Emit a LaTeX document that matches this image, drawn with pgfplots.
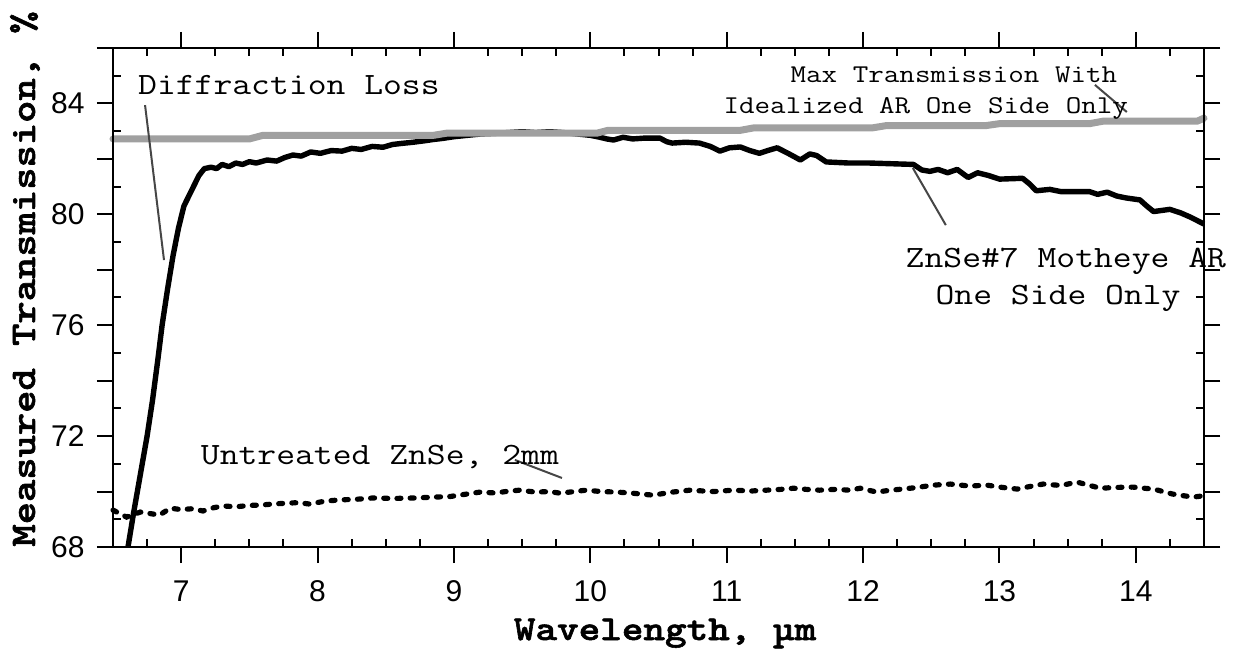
\documentclass[border=0pt]{standalone}
\usepackage{pgfplots}
\pgfplotsset{compat=1.18}
\usepackage{graphicx}
\usepackage{fontspec}
\setmainfont{Liberation Sans}
\newfontfamily\courbold{lmmonolt10-bold.otf}[FakeBold=1.5]
\definecolor{grayline}{RGB}{160,160,160}
\definecolor{ptr}{RGB}{70,70,70}
\newcommand\cour[3]{\scalebox{#2}[1]{\fontsize{#1}{#1}\selectfont\ttfamily #3}}
\begin{document}
\begin{tikzpicture}
\begin{axis}[
  name=ax,
  scale only axis,
  width=545.5pt, height=249.5pt,
  xmin=6.5, xmax=14.5, ymin=68, ymax=86,
  axis line style={line width=1pt},
  every tick/.style={line width=1pt, black},
  tick align=outside,
  major tick length=8pt,
  xtick={7,8,...,14},
  ytick={68,70,...,86},
  yticklabels={68,,72,,76,,80,,84,},
  /pgf/number format/assume math mode=true,
  tick label style={font=\fontsize{15}{15}\selectfont},
  xticklabel style={anchor=base, inner sep=0pt, yshift=-19pt},
  yticklabel style={anchor=east, inner sep=0pt, xshift=-6pt},
  xlabel={\scalebox{1.175}[1]{\courbold Wavelength, µm}},
  ylabel={\scalebox{1.18}[1]{\courbold Measured Transmission, \%}},
  xlabel style={at={(axis description cs:0.506,-0.1864)}, anchor=base, inner sep=0pt, font=\fontsize{17.5}{17.5}\selectfont},
  ylabel style={at={(axis description cs:-0.0715,0)}, anchor=base west, inner sep=0pt, font=\fontsize{18}{18}\selectfont},
  clip=false,
]
% ZnSe#7 Motheye AR
\addplot[black, line width=2.7pt, line join=round] coordinates {
(6.61,68.0)(6.65,69.2)(6.70,70.6)(6.75,72.0)(6.79,73.3)(6.83,74.8)(6.86,76.0)(6.90,77.3)(6.94,78.5)(6.98,79.5)(7.02,80.3)(7.05,80.6)(7.09,81.0)(7.13,81.4)(7.17,81.65)(7.22,81.7)(7.26,81.65)(7.30,81.8)(7.35,81.72)(7.40,81.85)(7.45,81.8)(7.50,81.9)(7.55,81.85)(7.63,81.96)(7.70,81.92)(7.76,82.05)(7.82,82.14)(7.88,82.1)(7.95,82.25)(8.02,82.2)(8.10,82.3)(8.18,82.28)(8.25,82.38)(8.32,82.34)(8.40,82.45)(8.48,82.42)(8.55,82.52)(8.62,82.56)(8.70,82.6)(8.78,82.65)(8.85,82.7)(8.92,82.74)(9.0,82.8)(9.1,82.85)(9.2,82.9)(9.3,82.92)(9.4,82.95)(9.5,82.98)(9.6,82.95)(9.7,82.98)(9.8,82.95)(9.9,82.9)(10.0,82.85)(10.07,82.78)(10.12,82.72)(10.17,82.68)(10.24,82.78)(10.31,82.72)(10.4,82.75)(10.51,82.75)(10.56,82.62)(10.6,82.57)(10.7,82.6)(10.8,82.57)(10.88,82.45)(10.95,82.28)(11.02,82.4)(11.1,82.43)(11.17,82.3)(11.24,82.2)(11.3,82.3)(11.37,82.4)(11.45,82.2)(11.54,81.96)(11.61,82.18)(11.66,82.12)(11.73,81.89)(11.9,81.85)(12.05,81.85)(12.37,81.8)(12.43,81.6)(12.49,81.55)(12.55,81.62)(12.62,81.5)(12.69,81.62)(12.77,81.33)(12.84,81.5)(12.92,81.4)(13.0,81.27)(13.17,81.3)(13.22,81.1)(13.27,80.85)(13.37,80.9)(13.45,80.82)(13.66,80.82)(13.72,80.72)(13.79,80.8)(13.86,80.66)(13.93,80.59)(14.03,80.52)(14.08,80.3)(14.13,80.1)(14.25,80.18)(14.33,80.05)(14.4,79.9)(14.48,79.7)(14.5,79.65)
};
% Max transmission
\addplot[grayline, line width=3.5pt, line join=round, line cap=round] coordinates {
(6.5,82.72)(7.50,82.72)(7.60,82.85)(8.85,82.85)(8.95,82.93)(10.05,82.93)(10.13,83.03)(11.1,83.03)(11.2,83.12)(12.07,83.12)(12.17,83.2)(12.9,83.2)(13.0,83.27)(13.66,83.27)(13.76,83.36)(14.45,83.36)(14.5,83.47)
};
% Untreated ZnSe
\addplot[black, line width=2.6pt, line cap=round, dash pattern=on 2pt off 4.6pt] coordinates {
(6.5,69.33)(6.6,69.08)(6.7,69.26)(6.78,69.2)(6.84,69.15)(6.92,69.4)(7.0,69.35)(7.08,69.38)(7.16,69.3)(7.24,69.42)(7.31,69.48)(7.4,69.45)(7.5,69.5)(7.58,69.51)(7.67,69.55)(7.77,69.58)(7.86,69.6)(7.94,69.55)(8.05,69.65)(8.16,69.7)(8.28,69.72)(8.41,69.77)(8.55,69.75)(8.73,69.77)(8.85,69.8)(8.97,69.82)(9.08,69.9)(9.19,69.98)(9.3,69.95)(9.38,70.0)(9.48,70.05)(9.6,69.98)(9.7,70.0)(9.78,69.94)(9.88,70.0)(9.97,70.05)(10.08,70.0)(10.2,69.98)(10.31,69.94)(10.46,69.87)(10.6,69.98)(10.73,70.05)(10.9,70.0)(11.05,70.05)(11.18,70.02)(11.29,70.05)(11.4,70.08)(11.49,70.12)(11.58,70.08)(11.68,70.05)(11.8,70.08)(11.9,70.05)(11.98,70.12)(12.1,69.98)(12.2,70.05)(12.29,70.09)(12.4,70.15)(12.51,70.23)(12.64,70.27)(12.78,70.2)(12.91,70.23)(13.02,70.15)(13.13,70.09)(13.22,70.18)(13.32,70.27)(13.45,70.22)(13.57,70.34)(13.64,70.25)(13.74,70.12)(13.86,70.15)(13.98,70.16)(14.06,70.12)(14.13,70.09)(14.2,70.0)(14.27,69.91)(14.35,69.85)(14.42,69.8)(14.5,69.85)
};
% pointers
\draw[ptr, line width=1pt] (axis cs:6.735,83.94) -- (axis cs:6.874,78.35);
\draw[ptr, line width=1pt] (axis cs:13.70,84.67) -- (axis cs:13.934,83.69);
\draw[ptr, line width=1pt] (axis cs:12.365,81.67) -- (axis cs:12.607,79.61);
\draw[ptr, line width=1pt] (axis cs:9.447,71.14) -- (axis cs:9.792,70.49);
% annotations
\node[anchor=base, inner sep=0pt] at (axis cs:7.79,84.34) {\cour{15.5}{1.18}{Diffraction Loss}};
\node[anchor=base, inner sep=0pt] at (axis cs:12.666,84.74) {\cour{12.8}{1.18}{Max Transmission With}};
\node[anchor=base, inner sep=0pt] at (axis cs:12.46,83.62) {\cour{12.8}{1.18}{Idealized AR One Side Only}};
\node[anchor=base, inner sep=0pt] at (axis cs:13.487,78.10) {\cour{15.5}{1.18}{ZnSe\#7 Motheye AR}};
\node[anchor=base, inner sep=0pt] at (axis cs:13.43,76.76) {\cour{15.5}{1.18}{One Side Only}};
\node[anchor=base, inner sep=0pt] at (axis cs:8.457,70.96) {\cour{15.5}{1.18}{Untreated ZnSe, 2mm}};
\end{axis}
% inward minor ticks
\begin{axis}[
  scale only axis,
  width=545.5pt, height=249.5pt,
  xmin=6.5, xmax=14.5, ymin=68, ymax=86,
  axis line style={line width=1pt},
  every tick/.style={line width=1pt, black},
  tick align=inside,
  major tick length=4pt,
  xtick={6.75,7.25,7.5,7.75,8.25,8.5,8.75,9.25,9.5,9.75,10.25,10.5,10.75,11.25,11.5,11.75,12.25,12.5,12.75,13.25,13.5,13.75,14.25},
  ytick={69,71,...,85},
  xticklabels={}, yticklabels={},
]
\end{axis}
\pgfresetboundingbox
\path ([xshift=-56.5pt,yshift=-50.5pt]ax.south west) rectangle ([xshift=17.5pt,yshift=24pt]ax.north east);
\end{tikzpicture}
\end{document}
